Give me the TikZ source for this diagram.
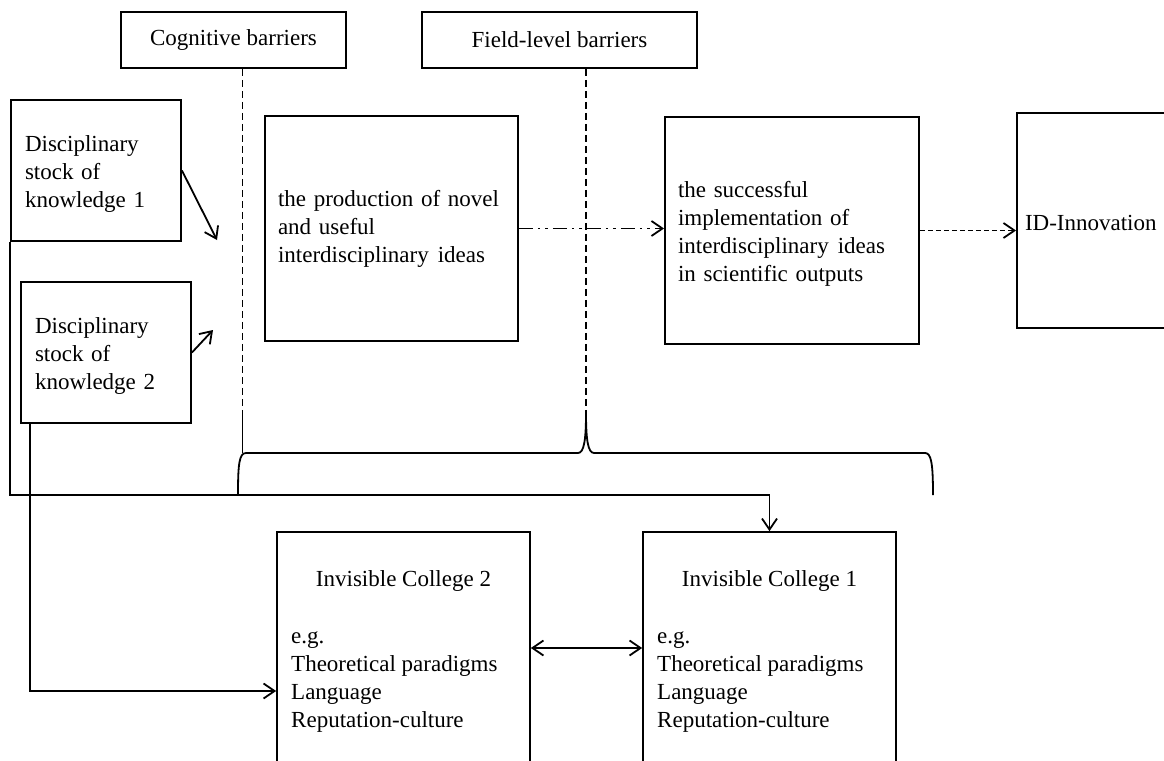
\documentclass[tikz,border=0pt]{standalone}
\usepackage{fontspec}
\setmainfont{Liberation Serif}
\usetikzlibrary{arrows.meta}
\begin{document}
\begin{tikzpicture}[x=1pt,y=-1pt,
  every node/.style={font=\fontsize{23}{28}\selectfont},
  box/.style={draw, line width=1.9pt, inner ysep=0pt, align=left},
  tag/.style={draw, line width=1.6pt, minimum height=56pt, inner sep=0pt, align=center},
  college/.style={draw, line width=1.7pt, minimum width=253pt, minimum height=270pt, inner sep=0pt},
  link/.style={line width=1.8pt, -{Straight Barb[length=11pt,width=15pt]}},
  barrier/.style={line width=1.5pt, dash pattern=on 7pt off 4pt},
  dashdotdot/.style={dash pattern=on 14pt off 5pt on 2.5pt off 5pt on 2.5pt off 5pt},
  shortdash/.style={dash pattern=on 5pt off 3pt},
  brace/.style={line width=1.8pt}]

\clip (0,0) rectangle (1164,760);

% barrier labels
\node[tag, minimum width=225pt] (cog) at (233.5,40) {Cognitive barriers};
\node[tag, minimum width=275pt] (fld) at (559.5,40) {Field-level barriers};

% disciplinary stocks of knowledge
\node[box, text width=142pt, inner xsep=14pt, minimum height=141pt] (d1) at (96,170.5)
  {\rule{0pt}{22pt}Disciplinary\\stock of\\knowledge 1};
\node[box, text width=142pt, inner xsep=14pt, minimum height=141pt] (d2) at (106,352.5)
  {\rule{0pt}{22pt}Disciplinary\\stock of\\knowledge 2};

% stages
\node[box, text width=227pt, inner xsep=13pt, minimum height=225pt] (prod) at (391.5,228.5)
  {the production of novel\\and useful\\interdisciplinary\hspace{9pt}ideas};
\node[box, text width=228pt, inner xsep=13pt, minimum height=227pt] (succ) at (792,230.5)
  {\rule{0pt}{22pt}the successful\\implementation of\\interdisciplinary\hspace{9pt}ideas\\in scientific outputs};
\node[box, text width=167pt, inner xsep=8pt, minimum height=215pt] (idinn) at (1108.5,220.5)
  {\rule{0pt}{20pt}ID-Innovation};

% invisible colleges
\node[college] (ic2) at (403.5,667) {};
\node[college] (ic1) at (769.5,667) {};
\node[anchor=base] (ic2t) at (ic2.north |- 0,586) {Invisible College 2};
\node[anchor=base] (ic1t) at (ic1.north |- 0,586) {Invisible College 1};
\node[anchor=north west, inner sep=0pt, align=left] (ic2l) at (291,626)
  {\rule{0pt}{17pt}e.g.\\Theoretical paradigms\\Language\\Reputation-culture};
\node[anchor=north west, inner sep=0pt, align=left] (ic1l) at (657,626)
  {\rule{0pt}{17pt}e.g.\\Theoretical paradigms\\Language\\Reputation-culture};

% free ends and guide levels
\coordinate (t1) at (217,240);
\coordinate (t2) at (213,330);
\coordinate (cogfoot) at (242.5,410);
\coordinate (fldfoot) at (586,413);
\coordinate (bus) at (0,495);
\coordinate (lang) at (0,691);
\coordinate (dbl) at (0,648);

% inputs
\draw[link] (d1.east) -- (t1);
\draw[link] (d2.east) -- (t2);

% stage transitions
\draw[link, dashdotdot] (prod.east) -- (prod.east -| succ.west);
\draw[link, shortdash] (succ.east) -- (succ.east -| idinn.west);

% barrier lines
\draw[barrier] (cog.south -| cogfoot) -- (cogfoot);
\draw[barrier] (fld.south -| fldfoot) -- (fldfoot);

% brace joining the barriers
\draw[brace] (cogfoot) -- (242.5,453);
\draw[brace] (238,495) .. controls (238,465) and (239,453) .. (246,453)
  -- (578,453) .. controls (584,453) and (586,440) .. (fldfoot)
  .. controls (586,440) and (588,453) .. (594,453)
  -- (925,453) .. controls (931,453) and (933,462) .. (933,495);

% links to the invisible colleges
\draw[link] (d1.south west) |- (bus -| ic1.north) -- (ic1.north);
\draw[link] ([xshift=10pt]d2.south west) |- (lang -| ic2.west);
\draw[line width=1.8pt, {Straight Barb[length=11pt,width=15pt]}-{Straight Barb[length=11pt,width=15pt]}]
  (ic2.east |- dbl) -- (ic1.west |- dbl);

\end{tikzpicture}
\end{document}
